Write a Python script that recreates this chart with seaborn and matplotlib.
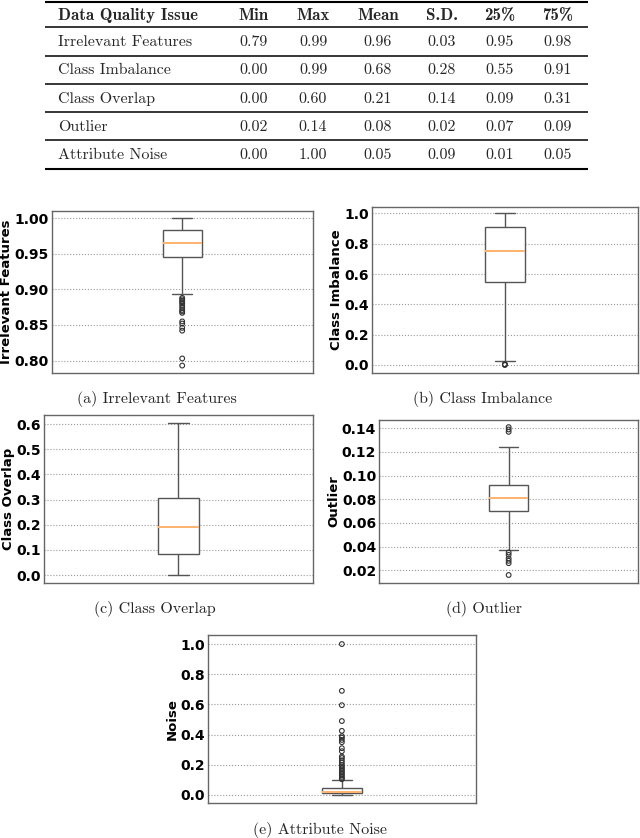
import matplotlib
matplotlib.use("Agg")
import matplotlib.pyplot as plt
import seaborn as sns
import pandas as pd

# ---- summary table ----
issues = ["Irrelevant Features", "Class Imbalance", "Class Overlap", "Outlier", "Attribute Noise"]
stat_names = ["Min", "Max", "Mean", "S.D.", "25%", "75%"]
stat_min = [0.79, 0.00, 0.00, 0.02, 0.00]
stat_max = [0.99, 0.99, 0.60, 0.14, 1.00]
stat_mean = [0.96, 0.68, 0.21, 0.08, 0.05]
stat_sd = [0.03, 0.28, 0.14, 0.02, 0.09]
stat_q25 = [0.95, 0.55, 0.09, 0.07, 0.01]
stat_q75 = [0.98, 0.91, 0.31, 0.09, 0.05]

# ---- box plots: [low whisker, q1, median, q3, high whisker] + fliers ----
irr_box = [0.893, 0.946, 0.965, 0.983, 1.000]
irr_fliers = [0.888, 0.886, 0.884, 0.882, 0.880, 0.877, 0.874, 0.871, 0.869, 0.867,
              0.855, 0.852, 0.846, 0.842, 0.803, 0.793]

imb_box = [0.028, 0.549, 0.754, 0.908, 1.000]
imb_fliers = [0.005, 0.002, 0.0]

ovl_box = [0.0, 0.083, 0.193, 0.307, 0.603]
ovl_fliers = []

out_box = [0.0374, 0.0699, 0.0811, 0.0921, 0.124]
out_fliers = [0.141, 0.139, 0.137, 0.035, 0.033, 0.030, 0.028, 0.026, 0.016]

noise_box = [0.0, 0.012, 0.022, 0.047, 0.099]
noise_fliers = [1.0, 0.69, 0.595, 0.49, 0.425, 0.39, 0.38, 0.365, 0.35, 0.31, 0.29,
                0.255, 0.245, 0.23, 0.215, 0.20, 0.19, 0.18, 0.17, 0.16, 0.15, 0.14,
                0.13, 0.12, 0.11, 0.105]

sns.set_style("whitegrid")
plt.rcParams["font.family"] = ["DejaVu Sans"]

W, H = 640, 838
fig = plt.figure(figsize=(W / 100, H / 100), dpi=100)

# table drawn in pixel coordinates
tax = fig.add_axes([0, 0, 1, 1])
tax.set_xlim(0, W)
tax.set_ylim(H, 0)
tax.axis("off")

x_left, x_right = 45, 588
rule_y = [2.5, 27.5, 56, 84, 112.3, 140.3, 169]
for i, y in enumerate(rule_y):
    lw = 1.5 if i in (0, len(rule_y) - 1) else 1.1
    tax.plot([x_left, x_right], [y, y], color="black", lw=lw, solid_capstyle="butt")

col_x = [254, 313, 378, 442, 500, 558]
head_y = 15.7
row_y = [41.7, 70.3, 98.7, 126.7, 154.7]
fs_tab = 11.5

tax.text(58, head_y, "Data Quality Issue", family="cmb10", fontsize=12.2,
         ha="left", va="center")
for cx, name in zip(col_x, stat_names):
    tax.text(cx, head_y, name, family="cmb10", fontsize=12.2, ha="center", va="center")

table = pd.DataFrame({"Min": stat_min, "Max": stat_max, "Mean": stat_mean,
                      "S.D.": stat_sd, "25%": stat_q25, "75%": stat_q75}, index=issues)
for ry, issue in zip(row_y, issues):
    tax.text(58, ry, issue, family="cmr10", fontsize=fs_tab, ha="left", va="center")
    for cx, name in zip(col_x, stat_names):
        tax.text(cx, ry, f"{table.loc[issue, name]:.2f}", family="cmr10",
                 fontsize=fs_tab, ha="center", va="center")


def px_axes(left, top, right, bottom):
    return fig.add_axes([left / W, 1 - bottom / H, (right - left) / W, (bottom - top) / H])


panels = [
    (px_axes(51.7, 211, 312.7, 372.7), irr_box, irr_fliers, "Irrelevant Features",
     [0.80, 0.85, 0.90, 0.95, 1.00], "{:.2f}", (0.783, 1.010), "(a) Irrelevant Features", (157, 399)),
    (px_axes(371.7, 206.7, 638, 372.7), imb_box, imb_fliers, "Class Imbalance",
     [0.0, 0.2, 0.4, 0.6, 0.8, 1.0], "{:.1f}", (-0.051, 1.044), "(b) Class Imbalance", (483, 399)),
    (px_axes(44.3, 415, 312.7, 582.7), ovl_box, ovl_fliers, "Class Overlap",
     [0.0, 0.1, 0.2, 0.3, 0.4, 0.5, 0.6], "{:.1f}", (-0.03, 0.636), "(c) Class Overlap", (155, 609)),
    (px_axes(379.3, 420, 638, 582.7), out_box, out_fliers, "Outlier",
     [0.02, 0.04, 0.06, 0.08, 0.10, 0.12, 0.14], "{:.2f}", (0.0095, 0.147), "(d) Outlier", (484, 609)),
    (px_axes(207.7, 635, 476, 803.3), noise_box, noise_fliers, "Noise",
     [0.0, 0.2, 0.4, 0.6, 0.8, 1.0], "{:.1f}", (-0.055, 1.06), "(e) Attribute Noise", (320, 830)),
]

edge = "#555555"
for ax, box, fliers, ylab, ticks, fmt, ylim, caption, cap_pos in panels:
    sns.boxplot(y=box, ax=ax, whis=(0, 100), width=0.15, color="white",
                linecolor=edge, linewidth=1.0,
                medianprops={"color": "#ffb26e", "linewidth": 1.4})
    if fliers:
        sns.stripplot(y=fliers, ax=ax, jitter=False, color="white", edgecolor="#333333",
                      linewidth=0.8, size=3.4, zorder=5)
        ax.collections[-1].set_facecolor("none")
    ax.set_xlim(-0.5, 0.5)
    ax.set_ylim(*ylim)
    ax.set_xticks([])
    ax.set_yticks(ticks)
    ax.set_yticklabels([fmt.format(t) for t in ticks], fontsize=10, fontweight="bold",
                       color="black")
    ax.tick_params(axis="y", pad=2.2, length=0)
    ax.set_ylabel(ylab, fontsize=9.5, fontweight="bold", labelpad=1, color="black")
    ax.set_xlabel("")
    ax.grid(False, axis="x")
    ax.grid(True, axis="y", linestyle=":", color="#999999", linewidth=0.8)
    for sp in ax.spines.values():
        sp.set_color("#666666")
        sp.set_linewidth(1.0)
    tax.text(cap_pos[0], cap_pos[1], caption, family="cmr10", fontsize=fs_tab,
             ha="center", va="center")

fig.savefig("out.png", dpi=100)
